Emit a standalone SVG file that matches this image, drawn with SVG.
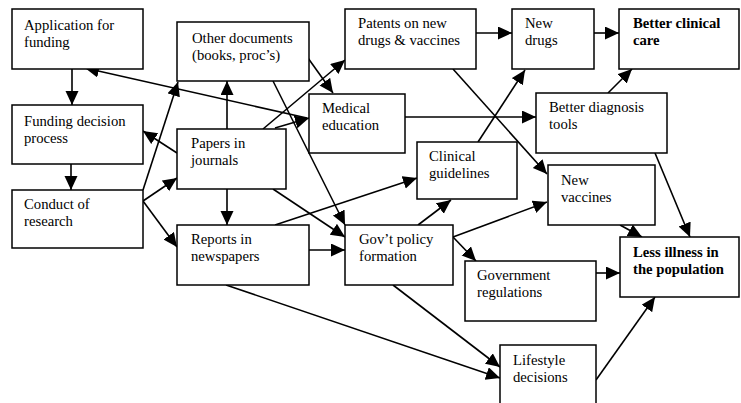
<svg xmlns="http://www.w3.org/2000/svg" width="741" height="403" viewBox="0 0 741 403">
<style>
.box{fill:#fff;stroke:#000;stroke-width:1.5}
.t{font-family:"Liberation Serif","Times New Roman","DejaVu Serif",serif;font-size:14.7px;fill:#000}
.b{font-weight:bold}
.c{stroke:#000;stroke-width:1.6;fill:none;marker-end:url(#ah)}
</style>
<defs>
<marker id="ah" markerUnits="userSpaceOnUse" markerWidth="15" markerHeight="14" refX="14" refY="6.5" orient="auto">
<path d="M0,0 L14,6.5 L0,13 z" fill="#000"/>
</marker>
</defs>
<rect width="741" height="403" fill="#fff"/>
<g id="connectors">
<line class="c" x1="72" y1="69" x2="72" y2="105"/>
<line class="c" x1="71" y1="164" x2="71" y2="190"/>
<line class="c" x1="143" y1="190" x2="178" y2="82"/>
<line class="c" x1="143" y1="201" x2="177" y2="178"/>
<line class="c" x1="143" y1="201" x2="177" y2="247"/>
<line class="c" x1="177" y1="153" x2="143" y2="131"/>
<line class="c" x1="227" y1="129" x2="227" y2="81"/>
<line class="c" x1="227" y1="189" x2="227" y2="225"/>
<line class="c" x1="263" y1="129" x2="345" y2="60"/>
<line class="c" x1="275" y1="128" x2="309" y2="118"/>
<line class="c" x1="307" y1="118" x2="85" y2="68"/>
<line class="c" x1="308" y1="58" x2="333" y2="93"/>
<line class="c" x1="273" y1="81" x2="345" y2="225"/>
<line class="c" x1="273" y1="189" x2="345" y2="237"/>
<line class="c" x1="309" y1="250" x2="345" y2="250"/>
<line class="c" x1="275" y1="225" x2="417" y2="178"/>
<line class="c" x1="226" y1="285" x2="500" y2="378"/>
<line class="c" x1="393" y1="285" x2="500" y2="367"/>
<line class="c" x1="418" y1="225" x2="451" y2="200"/>
<line class="c" x1="453" y1="237" x2="547" y2="202"/>
<line class="c" x1="453" y1="237" x2="476" y2="261"/>
<line class="c" x1="595" y1="273" x2="620" y2="273"/>
<line class="c" x1="596" y1="380" x2="655" y2="297"/>
<line class="c" x1="620" y1="225" x2="642" y2="237"/>
<line class="c" x1="655" y1="153" x2="690" y2="237"/>
<line class="c" x1="608" y1="93" x2="632" y2="69"/>
<line class="c" x1="594" y1="33" x2="619" y2="33"/>
<line class="c" x1="476" y1="33" x2="512" y2="33"/>
<line class="c" x1="453" y1="69" x2="547" y2="174"/>
<line class="c" x1="478" y1="142" x2="525" y2="70"/>
<line class="c" x1="405" y1="117" x2="536" y2="117"/>
</g>
<g id="application"><rect class="box" x="12" y="9" width="131" height="60"/><text class="t" x="24" y="30">Application for</text><text class="t" x="24" y="47">funding</text></g>
<g id="funding-decision"><rect class="box" x="12" y="105" width="131" height="59"/><text class="t" x="24" y="126">Funding decision</text><text class="t" x="24" y="143">process</text></g>
<g id="conduct"><rect class="box" x="12" y="190" width="131" height="58"/><text class="t" x="24" y="209">Conduct of</text><text class="t" x="24" y="226">research</text></g>
<g id="other-docs"><rect class="box" x="177" y="22" width="132" height="59"/><text class="t" x="192" y="43">Other documents</text><text class="t" x="192" y="60">(books, proc’s)</text></g>
<g id="papers"><rect class="box" x="177" y="129" width="109" height="60"/><text class="t" x="191" y="148">Papers in</text><text class="t" x="191" y="165">journals</text></g>
<g id="reports"><rect class="box" x="177" y="225" width="132" height="60"/><text class="t" x="191" y="244">Reports in</text><text class="t" x="191" y="261">newspapers</text></g>
<g id="patents"><rect class="box" x="345" y="9" width="131" height="60"/><text class="t" x="358" y="28">Patents on new</text><text class="t" x="358" y="45">drugs &amp; vaccines</text></g>
<g id="medical-education"><rect class="box" x="309" y="94" width="96" height="59"/><text class="t" x="322" y="113">Medical</text><text class="t" x="322" y="130">education</text></g>
<g id="new-drugs"><rect class="box" x="512" y="9" width="82" height="60"/><text class="t" x="525" y="28">New</text><text class="t" x="525" y="45">drugs</text></g>
<g id="better-care"><rect class="box" x="619" y="9" width="120" height="60"/><text class="t b" x="633" y="28">Better clinical</text><text class="t b" x="633" y="45">care</text></g>
<g id="better-diagnosis"><rect class="box" x="536" y="93" width="131" height="60"/><text class="t" x="549" y="112">Better diagnosis</text><text class="t" x="549" y="129">tools</text></g>
<g id="clinical-guidelines"><rect class="box" x="417" y="142" width="100" height="57"/><text class="t" x="429" y="161">Clinical</text><text class="t" x="429" y="178">guidelines</text></g>
<g id="new-vaccines"><rect class="box" x="548" y="165" width="107" height="60"/><text class="t" x="561" y="185">New</text><text class="t" x="561" y="202">vaccines</text></g>
<g id="policy"><rect class="box" x="345" y="225" width="108" height="60"/><text class="t" x="359" y="244">Gov’t policy</text><text class="t" x="359" y="261">formation</text></g>
<g id="regulations"><rect class="box" x="465" y="261" width="131" height="60"/><text class="t" x="477" y="280">Government</text><text class="t" x="477" y="297">regulations</text></g>
<g id="less-illness"><rect class="box" x="620" y="237" width="119" height="60"/><text class="t b" x="633" y="257">Less illness in</text><text class="t b" x="633" y="274">the population</text></g>
<g id="lifestyle"><rect class="box" x="500" y="345" width="96" height="70"/><text class="t" x="513" y="365">Lifestyle</text><text class="t" x="513" y="382">decisions</text></g>
</svg>
